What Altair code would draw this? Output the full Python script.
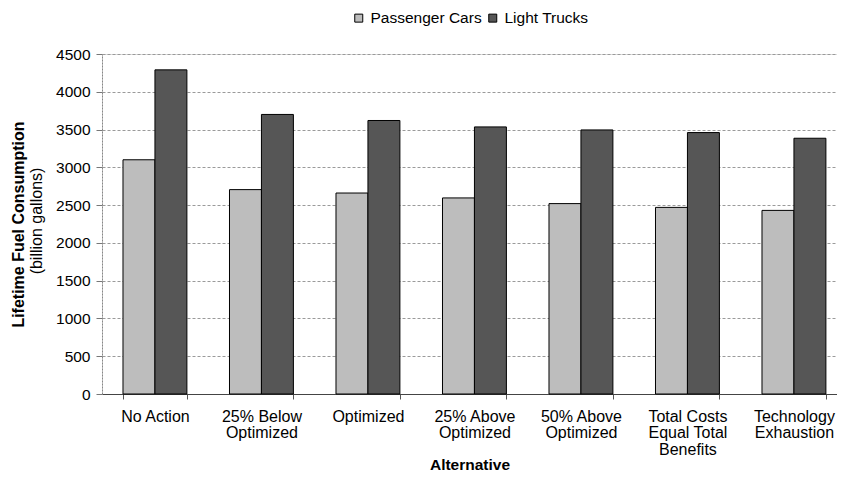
import altair as alt
import pandas as pd

categories = [
    "No Action",
    "25% Below\nOptimized",
    "Optimized",
    "25% Above\nOptimized",
    "50% Above\nOptimized",
    "Total Costs\nEqual Total\nBenefits",
    "Technology\nExhaustion",
]
series = ["Passenger Cars", "Light Trucks"]
passenger_cars = [3100, 2705, 2660, 2595, 2520, 2470, 2430]
light_trucks = [4290, 3700, 3620, 3535, 3495, 3460, 3385]
y_ticks = [0, 500, 1000, 1500, 2000, 2500, 3000, 3500, 4000, 4500]
colors = ["#bdbdbd", "#565656"]
y_title = "Lifetime Fuel Consumption"
y_subtitle = "(billion gallons)"
x_title = "Alternative"

rows = []
for i, c in enumerate(categories):
    rows.append({"alt": c, "series": series[0], "value": passenger_cars[i]})
    rows.append({"alt": c, "series": series[1], "value": light_trucks[i]})
df = pd.DataFrame(rows)

FONT = "Liberation Sans"

bars = alt.Chart(df).mark_bar(stroke="black", strokeWidth=1).encode(
    x=alt.X(
        "alt:N",
        sort=categories,
        scale=alt.Scale(paddingInner=0.4, paddingOuter=0.1507, align=0.654),
        axis=alt.Axis(
            title=x_title,
            labelAngle=0,
            labelExpr="split(datum.label, '\\n')",
            labelFontSize=16,
            labelLineHeight=16.5,
            labelColor="black",
            labelPadding=9,
            labelFont=FONT,
            tickBand="extent",
            tickSize=5,
            tickColor="#555555",
            domainColor="#444444",
            titleFont=FONT,
            titleFontSize=15.5,
            titleFontWeight="bold",
            titleColor="black",
            titleBaseline="alphabetic",
            titleY=75,
            grid=False,
        ),
    ),
    xOffset=alt.XOffset("series:N", sort=series, scale=alt.Scale(paddingInner=0, paddingOuter=0)),
    y=alt.Y(
        "value:Q",
        scale=alt.Scale(domain=[0, 4500], nice=False),
        axis=alt.Axis(
            title=y_title,
            values=y_ticks,
            format="d",
            labelFontSize=15.5,
            labelColor="black",
            labelFont=FONT,
            labelPadding=6,
            tickSize=6,
            tickColor="#777777",
            domainColor="#888888",
            domainDash=[2, 1],
            grid=True,
            gridColor="#9a9a9a",
            gridDash=[3, 2],
            gridWidth=1,
            titleFont=FONT,
            titleFontSize=16,
            titleFontWeight="bold",
            titleColor="black",
            titleX=-84,
            titleY=170,
            titleAngle=270,
            titleAlign="center",
            titleBaseline="middle",
        ),
    ),
    color=alt.Color(
        "series:N",
        sort=series,
        scale=alt.Scale(domain=series, range=colors),
        legend=alt.Legend(
            title=None,
            orient="none",
            legendX=249,
            legendY=-44,
            direction="horizontal",
            symbolType="square",
            symbolSize=64,
            symbolStrokeColor="black",
            symbolStrokeWidth=1,
            symbolOpacity=1,
            labelFontSize=15.5,
            labelFont=FONT,
            labelColor="black",
            labelOffset=4,
            columnPadding=3,
        ),
    ),
)

sub = alt.Chart(pd.DataFrame({"t": [y_subtitle]})).mark_text(
    angle=270, fontSize=16, font=FONT, color="black", align="center", baseline="middle"
).encode(
    x=alt.value(-65),
    y=alt.value(167),
    text="t:N",
)

chart = alt.layer(bars, sub).properties(
    width=735,
    height=340,
    autosize=alt.AutoSizeParams(type="none"),
    padding={"left": 94, "top": 46, "right": 0, "bottom": 99},
).configure_view(stroke=None).configure(background="white")

chart.save("out.html", embed_options={"renderer": "svg", "actions": False})
